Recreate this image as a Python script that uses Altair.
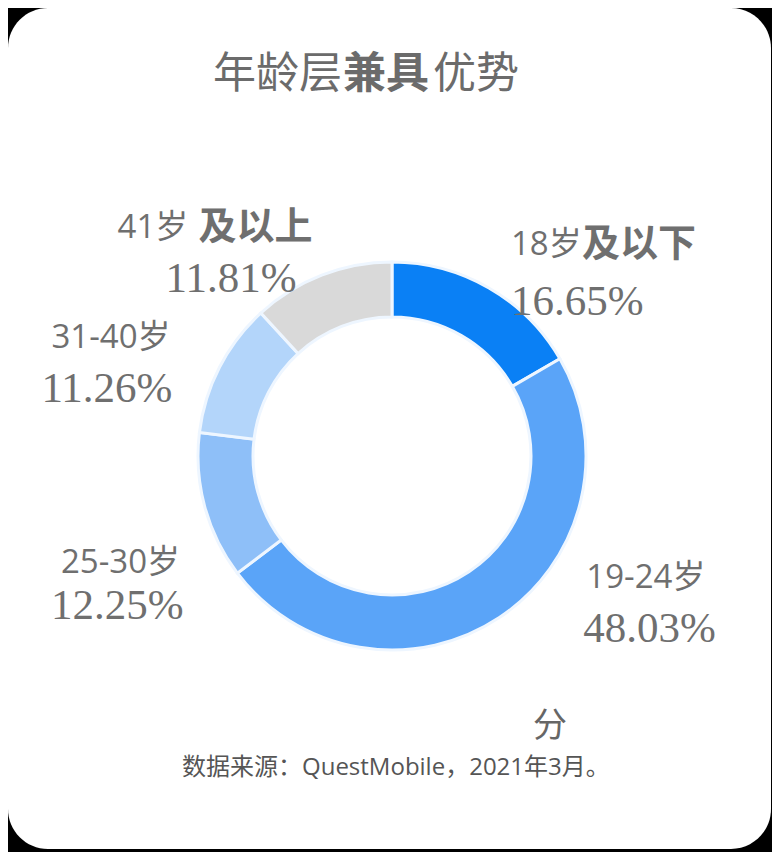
import altair as alt
import pandas as pd

# ---- data ----
categories = ["18岁及以下", "19-24岁", "25-30岁", "31-40岁", "41岁及以上"]
name_main = ["18岁", "19-24岁", "25-30岁", "31-40岁", "41岁"]
name_bold = ["及以下", "", "", "", "及以上"]
values = [16.65, 48.03, 12.25, 11.26, 11.81]
colors = ["#0A80F5", "#5AA4F8", "#8EBFF8", "#B3D5FA", "#D9D9D9"]

title_parts = ["年龄层", "兼具", "优势"]
source_text = "数据来源：QuestMobile，2021年3月。"

df = pd.DataFrame({
    "category": categories,
    "name_a": name_main,
    "name_b": name_bold,
    "value": values,
    "order": list(range(len(categories))),
})

W, H = 764, 844
CX, CY = 384, 448
GRAY = "#6f6f6f"
SANS = "Open Sans, Noto Sans CJK SC"

base = alt.Chart(df)

card = alt.Chart(pd.DataFrame({"k": [0]})).mark_rect(
    fill="white", cornerRadius=40
).encode(
    x=alt.value(0), x2=alt.value(763), y=alt.value(0), y2=alt.value(841)
)

theta_scale = alt.Scale(domain=[0, 100])

donut = base.mark_arc(
    innerRadius=139, outerRadius=194, stroke="#eef6ff", strokeWidth=3
).encode(
    theta=alt.Theta("value:Q", stack=True, scale=theta_scale),
    color=alt.Color("category:N", scale=alt.Scale(domain=categories, range=colors), legend=None),
    order=alt.Order("order:Q"),
    x=alt.value(CX),
    y=alt.value(CY),
)

# per-label offsets from the polar anchor at the slice mid-angle
offsets = {
    "18岁及以下": {"a": (4, -12), "b": (75, -12), "p": (4, 45)},
    "19-24岁": {"a": (67, -70), "p": (64, -19)},
    "25-30岁": {"a": (-109, 47), "p": (-119, 90)},
    "31-40岁": {"a": (-136, -13), "p": (-146, 38)},
    "41岁及以上": {"a": (-191, -14), "b": (-110, -14), "p": (-143, 37)},
}

label_base = base.transform_window(
    cum="sum(value)", sort=[alt.SortField("order")], frame=[None, 0]
).transform_calculate(
    mid="datum.cum - datum.value / 2",
    pct="format(datum.value, '.2f') + '%'",
)

layers = [card, donut]
for cat, off in offsets.items():
    specs = [
        ("a", "name_a", dict(font=SANS, fontSize=33, fontWeight="normal")),
        ("b", "name_b", dict(font="Noto Sans CJK SC", fontSize=38, fontWeight="bold")),
        ("p", "pct", dict(font="Liberation Serif", fontSize=43, fontWeight="normal")),
    ]
    for key, field, style in specs:
        if key not in off:
            continue
        dx, dy = off[key]
        layers.append(
            label_base.transform_filter(alt.datum.category == cat).mark_text(
                radius=230, dx=dx, dy=dy, align="left", baseline="middle",
                color=GRAY, **style
            ).encode(
                theta=alt.Theta("mid:Q", stack=False, scale=theta_scale),
                text=alt.Text(f"{field}:N"),
                x=alt.value(CX),
                y=alt.value(CY),
            )
        )

# title in three runs (middle run bold)
title_df = pd.DataFrame({"t": title_parts, "i": [0, 1, 2]})
title_x = [205, 335, 425]
title_weights = ["normal", "bold", "normal"]
for i, part in enumerate(title_parts):
    layers.append(
        alt.Chart(title_df).transform_filter(alt.datum.i == i).mark_text(
            align="left", baseline="middle", font="Noto Sans CJK SC", fontSize=43,
            fontWeight=title_weights[i], color="#6b6b6b"
        ).encode(text="t:N", x=alt.value(title_x[i]), y=alt.value(67))
    )

src_df = pd.DataFrame({"t": [source_text]})
layers.append(
    alt.Chart(src_df).mark_text(
        align="left", baseline="middle", font=SANS, fontSize=24,
        color="#555555"
    ).encode(text="t:N", x=alt.value(174), y=alt.value(760))
)
layers.append(
    alt.Chart(pd.DataFrame({"t": ["分"]})).mark_text(
        align="center", baseline="middle", font="Noto Sans CJK SC", fontSize=34,
        color="#666666"
    ).encode(text="t:N", x=alt.value(542), y=alt.value(719))
)

chart = alt.layer(*layers).properties(
    width=W, height=H, background="#000000", padding=0,
    autosize=alt.AutoSizeParams(type="none"),
).configure_view(stroke=None)

chart.save("out.html", embed_options={"renderer": "svg", "actions": False})
